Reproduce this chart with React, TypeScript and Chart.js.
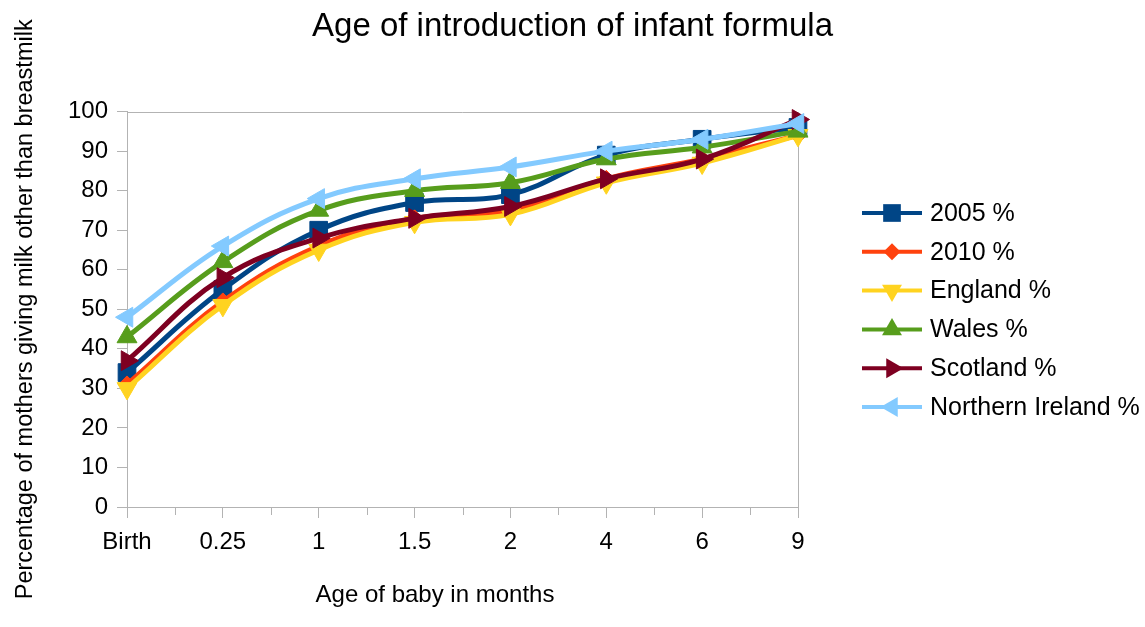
import React, { useEffect, useRef } from 'react';
import { Chart, registerables } from 'chart.js';

Chart.register(...registerables);

// ---- data ----
const categories = ['Birth', '0.25', '1', '1.5', '2', '4', '6', '9'];
const pct2005 = [34, 55, 70, 77, 79, 89, 93, 96];
const pct2010 = [31, 52, 66, 73, 75, 83, 88, 94];
const englandPct = [30, 51, 65, 72, 74, 82, 87, 94];
const walesPct = [43, 62, 75, 80, 82, 88, 91, 95];
const scotlandPct = [37, 58, 68, 73, 76, 83, 88, 98];
const northernIrelandPct = [48, 66, 78, 83, 86, 90, 93, 97];
const seriesLabels = ['2005 %', '2010 %', 'England %', 'Wales %', 'Scotland %', 'Northern Ireland %'];
const yTickValues = [0, 10, 20, 30, 40, 50, 60, 70, 80, 90, 100];

const TITLE = 'Age of introduction of infant formula';
const X_TITLE = 'Age of baby in months';
const Y_TITLE = 'Percentage of mothers giving milk other than breastmilk';

// ---- styles ----
const FONT = "'Liberation Sans', Arial, sans-serif";
const AXIS_GRAY = '#b3b3b3';

type MarkerStyle = { color: string; pointStyle: string; radius: number; rotation: number };
const seriesStyles: MarkerStyle[] = [
  { color: '#004586', pointStyle: 'rect', radius: 12.5, rotation: 0 },
  { color: '#ff420e', pointStyle: 'rectRot', radius: 8.5, rotation: 0 },
  { color: '#ffd320', pointStyle: 'triangle', radius: 11.5, rotation: 180 },
  { color: '#579d1c', pointStyle: 'triangle', radius: 11.5, rotation: 0 },
  { color: '#7e0021', pointStyle: 'triangle', radius: 11.5, rotation: 90 },
  { color: '#83caff', pointStyle: 'triangle', radius: 11.5, rotation: 270 },
];

function drawMarker(ctx: CanvasRenderingContext2D, st: MarkerStyle, x: number, y: number) {
  const r = st.radius;
  const rad = (st.rotation * Math.PI) / 180;
  ctx.beginPath();
  if (st.pointStyle === 'rect') {
    const s = Math.SQRT1_2 * r;
    ctx.rect(x - s, y - s, 2 * s, 2 * s);
  } else if (st.pointStyle === 'rectRot') {
    ctx.moveTo(x - r, y);
    ctx.lineTo(x, y - r);
    ctx.lineTo(x + r, y);
    ctx.lineTo(x, y + r);
  } else {
    for (let k = 0; k < 3; k++) {
      const a = rad + (k * 2 * Math.PI) / 3;
      const px = x + Math.sin(a) * r;
      const py = y - Math.cos(a) * r;
      if (k === 0) ctx.moveTo(px, py);
      else ctx.lineTo(px, py);
    }
  }
  ctx.closePath();
  ctx.fillStyle = st.color;
  ctx.fill();
}

const decorPlugin = {
  id: 'decor',
  beforeDatasetsDraw(chart: any) {
    const { ctx, chartArea } = chart;
    const { left, right, top, bottom } = chartArea;
    const xScale = chart.scales.x;
    ctx.save();
    ctx.strokeStyle = AXIS_GRAY;
    ctx.lineWidth = 1;
    // top and right frame
    ctx.beginPath();
    ctx.moveTo(Math.round(left), Math.round(top) + 0.5);
    ctx.lineTo(Math.round(right) + 0.5, Math.round(top) + 0.5);
    ctx.lineTo(Math.round(right) + 0.5, Math.round(bottom));
    ctx.stroke();
    // minor ticks between categories
    ctx.beginPath();
    for (let i = 0; i < categories.length - 1; i++) {
      const xm = Math.round((xScale.getPixelForValue(i) + xScale.getPixelForValue(i + 1)) / 2) + 0.5;
      ctx.moveTo(xm, bottom);
      ctx.lineTo(xm, bottom + 8);
    }
    ctx.stroke();
    ctx.restore();
  },
  afterDraw(chart: any) {
    const { ctx } = chart;
    ctx.save();
    // x axis title
    ctx.fillStyle = '#000';
    ctx.font = `24px ${FONT}`;
    ctx.textAlign = 'center';
    ctx.textBaseline = 'middle';
    ctx.fillText(X_TITLE, 435, 595);
    // legend
    ctx.font = `25px ${FONT}`;
    ctx.textAlign = 'left';
    for (let i = 0; i < seriesLabels.length; i++) {
      const st = seriesStyles[i];
      const y = 213 + i * 38.8;
      ctx.strokeStyle = st.color;
      ctx.lineWidth = 4;
      ctx.beginPath();
      ctx.moveTo(862, y);
      ctx.lineTo(922, y);
      ctx.stroke();
      drawMarker(ctx, st, 892, y);
      ctx.fillStyle = '#000';
      ctx.fillText(seriesLabels[i], 930, y + 1);
    }
    ctx.restore();
  },
};

const seriesData = [pct2005, pct2010, englandPct, walesPct, scotlandPct, northernIrelandPct];

export default function App() {
  const canvasRef = useRef<HTMLCanvasElement | null>(null);

  useEffect(() => {
    if (!canvasRef.current) return;
    Chart.defaults.font.family = FONT;
    Chart.defaults.color = '#000';
    const chart = new Chart(canvasRef.current, {
      type: 'line',
      data: {
        labels: categories,
        datasets: seriesData.map((d, i) => ({
          label: seriesLabels[i],
          data: d,
          borderColor: seriesStyles[i].color,
          backgroundColor: seriesStyles[i].color,
          borderWidth: 5,
          tension: 0.4,
          fill: false,
          pointStyle: seriesStyles[i].pointStyle as any,
          pointRadius: seriesStyles[i].radius,
          pointRotation: seriesStyles[i].rotation,
          pointBackgroundColor: seriesStyles[i].color,
          pointBorderColor: seriesStyles[i].color,
          pointBorderWidth: 1,
          order: seriesData.length - i,
          clip: false as any,
        })),
      },
      options: {
        animation: false,
        responsive: false,
        devicePixelRatio: 1,
        layout: { padding: 0 },
        plugins: {
          legend: { display: false },
          tooltip: { enabled: false },
          title: {
            display: true,
            text: TITLE,
            color: '#000',
            font: { size: 33, weight: 'normal' as any, family: FONT },
            padding: { top: 7, bottom: 65 },
          },
        },
        scales: {
          x: {
            type: 'category',
            offset: false,
            grid: {
              display: true,
              drawOnChartArea: false,
              drawTicks: true,
              tickLength: 11,
              color: AXIS_GRAY,
            },
            border: { display: true, color: AXIS_GRAY },
            ticks: {
              color: '#000',
              font: { size: 24, family: FONT },
              padding: 10,
              maxRotation: 0,
              autoSkip: false,
            },
            afterFit: (s: any) => {
              s.height = 120;
            },
          },
          y: {
            type: 'linear',
            position: 'left',
            min: 0,
            max: 100,
            grid: {
              display: true,
              drawOnChartArea: false,
              drawTicks: true,
              tickLength: 10,
              color: AXIS_GRAY,
            },
            border: { display: true, color: AXIS_GRAY },
            ticks: {
              color: '#000',
              font: { size: 24, family: FONT },
              padding: 9,
            },
            afterBuildTicks: (s: any) => {
              s.ticks = yTickValues.map((v) => ({ value: v }));
            },
            title: {
              display: true,
              text: Y_TITLE,
              color: '#000',
              font: { size: 23.5, family: FONT },
              padding: { top: 11, bottom: 0 },
            },
            afterFit: (s: any) => {
              s.width = 127;
            },
          },
          spacer: {
            type: 'linear',
            position: 'right',
            display: true,
            grid: { display: false },
            border: { display: false },
            ticks: { display: false },
            afterFit: (s: any) => {
              s.width = 347;
            },
          },
        },
      },
      plugins: [decorPlugin],
    });
    return () => chart.destroy();
  }, []);

  return (
    <div style={{ position: 'absolute', left: 0, top: 0, width: 1145, height: 627, background: '#fff' }}>
      <canvas ref={canvasRef} width={1145} height={627} />
    </div>
  );
}
